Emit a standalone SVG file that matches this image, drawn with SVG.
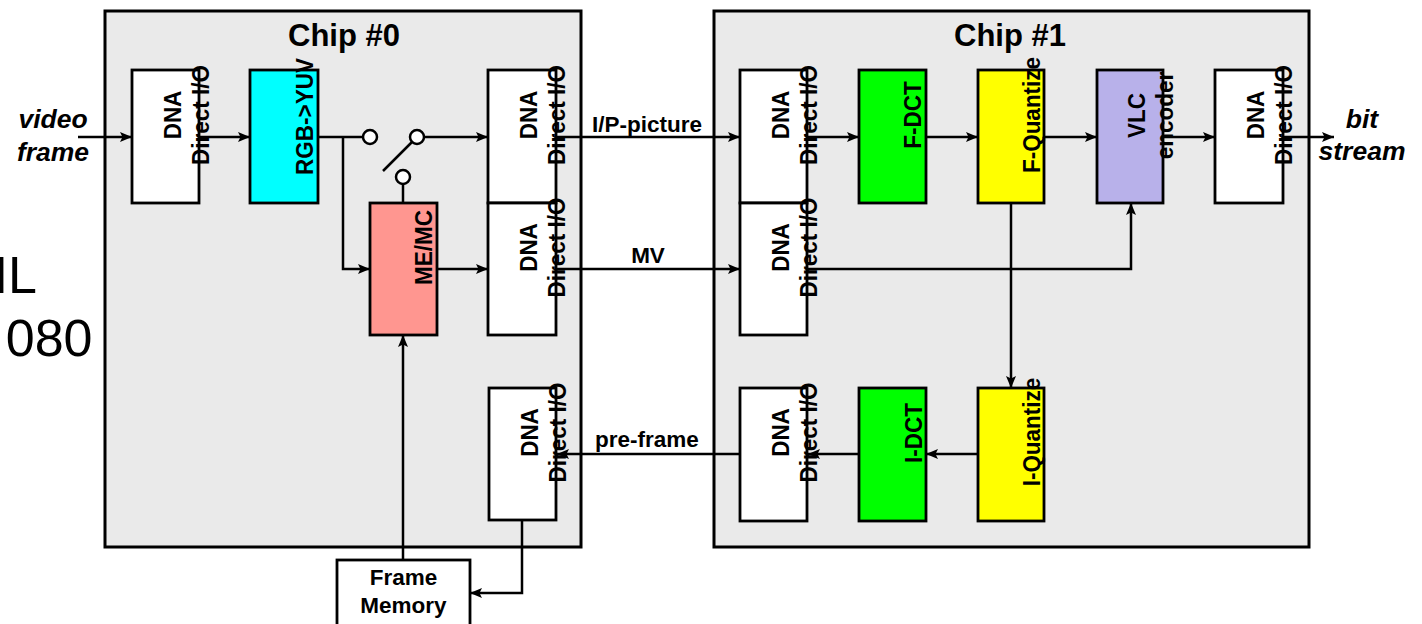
<svg xmlns="http://www.w3.org/2000/svg" width="1422" height="624" viewBox="0 0 1422 624">
<style>
  text { font-family: "Liberation Sans", Arial, sans-serif; fill: #000; }
  .title { font-weight: bold; font-size: 31px; text-anchor: middle; }
  .it { font-weight: bold; font-style: italic; font-size: 26.5px; text-anchor: middle; }
  .lbl { font-weight: bold; font-size: 22.5px; }
  .rot { font-weight: bold; font-size: 22.5px; text-anchor: middle; }
  .bg { font-size: 52px; text-anchor: end; }
  .chip { fill: #EAEAEA; stroke: #000; stroke-width: 3; }
  .box { stroke: #000; stroke-width: 2.8; }
  .white { fill: #FFFFFF; }
  .cyan { fill: #00FFFF; }
  .salmon { fill: #FF9690; }
  .green { fill: #00FF00; }
  .yellow { fill: #FFFF00; }
  .lav { fill: #B8B1EA; }
  .wire { fill: none; stroke: #000; stroke-width: 2.5; }
  .arr { marker-end: url(#ah); }
  .term { fill: #FFFFFF; stroke: #000; stroke-width: 2.5; }
</style>
<defs>
  <marker id="ah" markerUnits="userSpaceOnUse" markerWidth="13" markerHeight="11" refX="12" refY="5" orient="auto" overflow="visible">
    <path d="M0,0 L12,5 L0,10 L2.5,5 z" fill="#000"/>
  </marker>
</defs>

<!-- background slide fragments -->
<text class="bg" x="37" y="293">IL</text>
<text class="bg" x="92.5" y="356">080</text>

<!-- chips -->
<g id="chip0">
  <rect class="chip" x="105" y="11" width="476" height="536"/>
  <text class="title" x="344" y="46">Chip #0</text>
</g>
<g id="chip1">
  <rect class="chip" x="714" y="11" width="595" height="536"/>
  <text class="title" x="1010" y="46">Chip #1</text>
</g>

<!-- outside labels -->
<g id="video-frame">
  <text class="it" x="53" y="128">video</text>
  <text class="it" x="53" y="161">frame</text>
</g>
<g id="bit-stream">
  <text class="it" x="1362" y="128">bit</text>
  <text class="it" x="1362" y="160">stream</text>
</g>

<!-- Chip #0 nodes -->
<g id="dna-in">
  <rect class="box white" x="132" y="70" width="67" height="133"/>
  <g transform="translate(181,115) rotate(-90) scale(1,1.1)"><text class="rot">DNA</text><text class="rot" y="25.5">Direct I/O</text></g>
</g>
<g id="rgb2yuv">
  <rect class="box cyan" x="250" y="70" width="68" height="133"/>
  <g transform="translate(313,116.5) rotate(-90) scale(1,1.1)"><text class="rot">RGB-&gt;YUV</text></g>
</g>
<g id="memc">
  <rect class="box salmon" x="370" y="203" width="67" height="132"/>
  <g transform="translate(432,247.5) rotate(-90) scale(1,1.1)"><text class="rot">ME/MC</text></g>
</g>
<g id="dna-ip-out">
  <rect class="box white" x="488" y="70" width="68" height="133"/>
  <g transform="translate(537,115) rotate(-90) scale(1,1.1)"><text class="rot">DNA</text><text class="rot" y="25.5">Direct I/O</text></g>
</g>
<g id="dna-mv-out">
  <rect class="box white" x="488" y="203" width="68" height="132"/>
  <g transform="translate(537,247.5) rotate(-90) scale(1,1.1)"><text class="rot">DNA</text><text class="rot" y="25.5">Direct I/O</text></g>
</g>
<g id="dna-pre-in">
  <rect class="box white" x="489" y="388" width="67" height="132"/>
  <g transform="translate(538,432.5) rotate(-90) scale(1,1.1)"><text class="rot">DNA</text><text class="rot" y="25.5">Direct I/O</text></g>
</g>
<g id="frame-memory">
  <rect class="box white" x="337" y="560" width="133" height="80"/>
  <text class="lbl" x="403.5" y="585" text-anchor="middle">Frame</text>
  <text class="lbl" x="403.5" y="613" text-anchor="middle">Memory</text>
</g>
<g id="switch">
  <line class="wire" x1="383" y1="171" x2="412" y2="142"/>
  <circle class="term" cx="370" cy="137" r="7"/>
  <circle class="term" cx="417" cy="137" r="7"/>
  <circle class="term" cx="403" cy="177" r="7"/>
</g>

<!-- Chip #1 nodes -->
<g id="dna-ip-in">
  <rect class="box white" x="740" y="70" width="67" height="133"/>
  <g transform="translate(789,115) rotate(-90) scale(1,1.1)"><text class="rot">DNA</text><text class="rot" y="25.5">Direct I/O</text></g>
</g>
<g id="dna-mv-in">
  <rect class="box white" x="740" y="203" width="67" height="132"/>
  <g transform="translate(789,247.5) rotate(-90) scale(1,1.1)"><text class="rot">DNA</text><text class="rot" y="25.5">Direct I/O</text></g>
</g>
<g id="fdct">
  <rect class="box green" x="859" y="70" width="67" height="133"/>
  <g transform="translate(921,115) rotate(-90) scale(1,1.1)"><text class="rot">F-DCT</text></g>
</g>
<g id="fquant">
  <rect class="box yellow" x="978" y="70" width="66" height="133"/>
  <g transform="translate(1040,115) rotate(-90) scale(1,1.1)"><text class="rot">F-Quantize</text></g>
</g>
<g id="vlc">
  <rect class="box lav" x="1097" y="70" width="66" height="133"/>
  <g transform="translate(1145,115.5) rotate(-90) scale(1,1.1)"><text class="rot">VLC</text><text class="rot" y="25.5">encoder</text></g>
</g>
<g id="dna-out">
  <rect class="box white" x="1215" y="70" width="68" height="133"/>
  <g transform="translate(1264,115) rotate(-90) scale(1,1.1)"><text class="rot">DNA</text><text class="rot" y="25.5">Direct I/O</text></g>
</g>
<g id="dna-pre-out">
  <rect class="box white" x="740" y="388" width="67" height="133"/>
  <g transform="translate(789,432.5) rotate(-90) scale(1,1.1)"><text class="rot">DNA</text><text class="rot" y="25.5">Direct I/O</text></g>
</g>
<g id="idct">
  <rect class="box green" x="859" y="388" width="67" height="133"/>
  <g transform="translate(922,433) rotate(-90) scale(1,1.1)"><text class="rot">I-DCT</text></g>
</g>
<g id="iquant">
  <rect class="box yellow" x="978" y="388" width="66" height="133"/>
  <g transform="translate(1040,432) rotate(-90) scale(1,1.1)"><text class="rot">I-Quantize</text></g>
</g>

<!-- connectors -->
<g id="connectors">
  <line class="wire arr" x1="78" y1="137" x2="132" y2="137"/>
  <line class="wire arr" x1="199" y1="137" x2="250" y2="137"/>
  <line class="wire" x1="318" y1="137" x2="363" y2="137"/>
  <polyline class="wire arr" points="343,137 343,269 370,269"/>
  <line class="wire arr" x1="424" y1="137" x2="488" y2="137"/>
  <line class="wire" x1="403" y1="184" x2="403" y2="203"/>
  <line class="wire arr" x1="437" y1="269" x2="488" y2="269"/>
  <line class="wire arr" x1="556" y1="137" x2="740" y2="137"/>
  <text class="lbl" x="592" y="132">I/P-picture</text>
  <line class="wire arr" x1="556" y1="269" x2="740" y2="269"/>
  <text class="lbl" x="648" y="263" text-anchor="middle">MV</text>
  <line class="wire arr" x1="807" y1="137" x2="859" y2="137"/>
  <line class="wire arr" x1="926" y1="137" x2="978" y2="137"/>
  <line class="wire arr" x1="1044" y1="137" x2="1097" y2="137"/>
  <line class="wire arr" x1="1163" y1="137" x2="1215" y2="137"/>
  <line class="wire arr" x1="1283" y1="137" x2="1334" y2="137"/>
  <polyline class="wire arr" points="807,269 1131,269 1131,203"/>
  <line class="wire arr" x1="1011" y1="203" x2="1011" y2="388"/>
  <line class="wire arr" x1="978" y1="454" x2="926" y2="454"/>
  <line class="wire arr" x1="859" y1="454" x2="808" y2="454"/>
  <line class="wire arr" x1="740" y1="454" x2="557" y2="454"/>
  <text class="lbl" x="595" y="447">pre-frame</text>
  <polyline class="wire arr" points="522,520 522,593 470,593"/>
  <line class="wire arr" x1="403" y1="560" x2="403" y2="335"/>
</g>
</svg>
